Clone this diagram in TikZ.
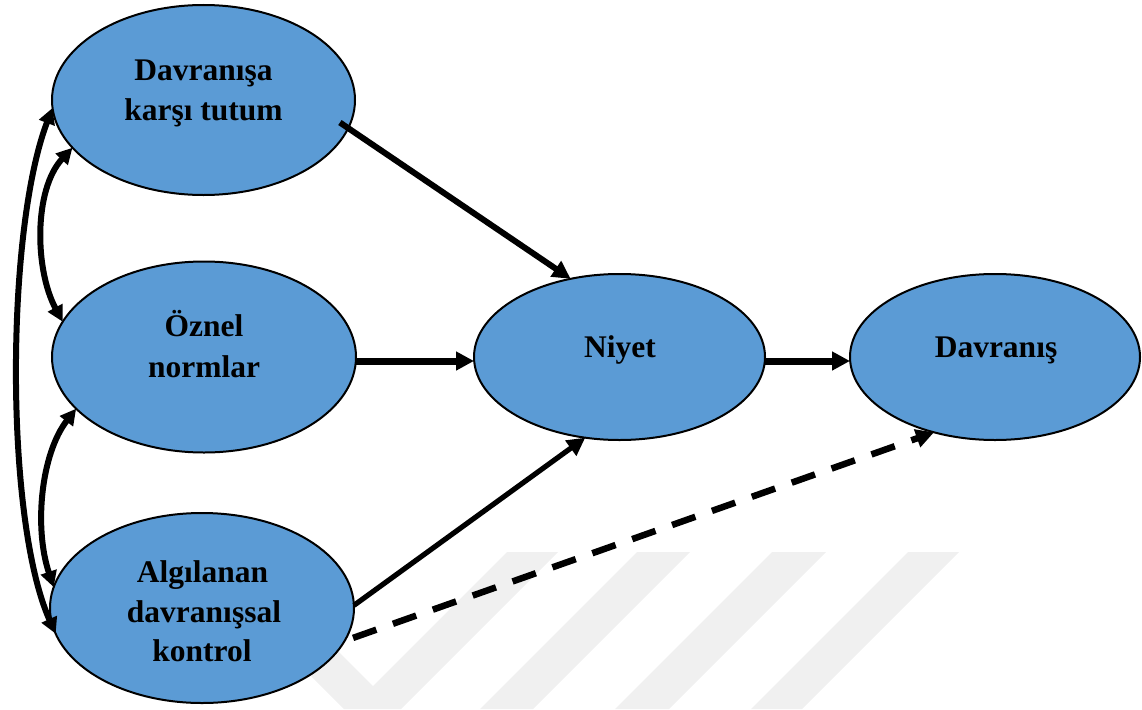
\documentclass[tikz,border=0pt]{standalone}
\usepackage{fontspec}
\setmainfont{Liberation Serif}
\usetikzlibrary{arrows.meta,shapes.geometric}
\definecolor{boxblue}{RGB}{91,155,213}
\definecolor{markgray}{RGB}{240,240,240}

\begin{document}
\begin{tikzpicture}[x=1pt,y=-1pt,
  oval/.style={ellipse,draw=black,line width=2pt,fill=boxblue,inner sep=0pt,outer sep=0pt},
  lbl/.style={anchor=base,inner sep=0pt,font=\fontsize{31.5}{40}\selectfont\bfseries},
  tip/.style={-{Triangle[length=18pt,width=18pt]}},
  arrH/.style={tip,line width=7pt},
  arrA/.style={tip,line width=6pt},
  arrB/.style={tip,line width=5.2pt},
  dashlink/.style={tip,line width=6.5pt,dash pattern=on 24.7pt off 17.6pt},
  curv/.style={line width=6pt,{Triangle[length=16pt,width=16pt]}-{Triangle[length=16pt,width=16pt]}}
]
\useasboundingbox (0,0) rectangle (1142,709);

% faint background mark
\fill[markgray] (187,552) -- (239,552) -- (373,686) -- (507,552) -- (558,552)
  -- (401,709) -- (344,709) -- cycle;
\fill[markgray] (637,552) -- (690,552) -- (533,709) -- (480,709) -- cycle;
\fill[markgray] (772,552) -- (826,552) -- (669,709) -- (615,709) -- cycle;
\fill[markgray] (908,552) -- (959,552) -- (802,709) -- (751,709) -- cycle;

% the five constructs
\node[oval,minimum width=303pt,minimum height=190pt] (tut) at (203.5,100) {};
\node[oval,minimum width=304pt,minimum height=191pt] (oz) at (204,357) {};
\node[oval,minimum width=304pt,minimum height=190pt] (alg) at (202,608) {};
\node[oval,minimum width=291pt,minimum height=166pt] (niy) at (619.5,357) {};
\node[oval,minimum width=290pt,minimum height=166pt] (dav) at (995,357) {};

% labels
\node[lbl] (tutA) at (203.5,80.7) {Davranışa};
\node[lbl] (tutB) at (203.5,120.7) {karşı tutum};
\node[lbl] (ozA) at (204,336) {Öznel};
\node[lbl] (ozB) at (204,377) {normlar};
\node[lbl] (algA) at (202.5,582.7) {Algılanan};
\node[lbl] (algB) at (204,622.7) {davranışsal};
\node[lbl] (algC) at (202,661.7) {kontrol};
\node[lbl] (niyA) at (620,357.3) {Niyet};
\node[lbl] (davA) at (996,357.3) {Davranış};

% paths into intention and behaviour
\draw[arrA,shorten <=-10pt] (tut.-11) -- (niy.122);
\draw[arrH] ([yshift=-4pt]oz.east) -- ([yshift=-4pt]niy.west);
\draw[arrH] ([yshift=-4pt]niy.east) -- ([yshift=-4pt]dav.west);
\draw[arrB] (alg.1) -- (niy.247);
\draw[dashlink,shorten <=9pt] (alg.-13) -- (dav.231);

% correlations among the antecedents
\draw[curv] (tut.183) .. controls +(-47,123) and +(-51,-114) .. (alg.190);
\draw[curv] (tut.200) .. controls +(-39,42) and +(-28,-52) .. (oz.166);
\draw[curv] (oz.202) .. controls +(-35,45) and +(-20,-60) .. (alg.172);
\end{tikzpicture}
\end{document}
